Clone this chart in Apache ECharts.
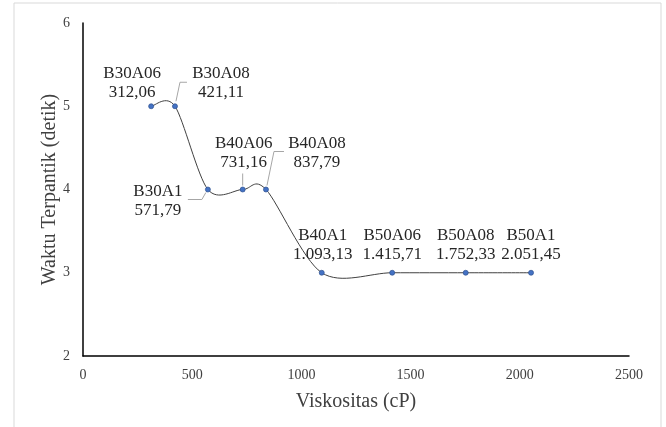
<!DOCTYPE html>
<html>
<head>
<meta charset="utf-8">
<script src="https://cdn.jsdelivr.net/npm/echarts@6/dist/echarts.min.js"></script>
<style>
  html, body { margin: 0; padding: 0; background: #fff; }
  #chart { width: 666px; height: 427px; }
</style>
</head>
<body>
<div id="chart"></div>
<script>
// data
var names = ['B30A06', 'B30A08', 'B30A1', 'B40A06', 'B40A08', 'B40A1', 'B50A06', 'B50A08', 'B50A1'];
var viskositas = [312.06, 421.11, 571.79, 731.16, 837.79, 1093.13, 1415.71, 1752.33, 2051.45];
var waktu = [5, 5, 4, 4, 4, 3, 3, 3, 3];
var xTicks = [0, 500, 1000, 1500, 2000, 2500];
var yTicks = [2, 3, 4, 5, 6];

// label placement (pixels from the point) and leader lines
var labelOffset = [[-19, -23], [46, -23], [-50, 12], [1, -36], [51, -36], [1, -28], [0, -28], [0, -28], [0, -28]];
var leaders = [
  null,
  [[1, -5], [5, -24], [12, -24]],
  [[-2, 3], [-6, 10], [-20, 10]],
  [[0, -4], [0, -16]],
  [[1, -4], [8, -38], [18, -38]],
  null, null, null, null
];

function fmt(v) {
  var parts = v.toFixed(2).split('.');
  var intPart = parts[0].replace(/\B(?=(\d{3})+(?!\d))/g, '.');
  return intPart + ',' + parts[1];
}

// excel style smoothed segment i -> i+1 (catmull-rom like)
function segment(api, i) {
  var n = viskositas.length;
  var P = function (j) {
    j = Math.max(0, Math.min(n - 1, j));
    return api.coord([viskositas[j], waktu[j]]);
  };
  var p0 = P(i - 1), p1 = P(i), p2 = P(i + 1), p3 = P(i + 2);
  var t = 0.15;
  return {
    type: 'bezierCurve',
    shape: {
      x1: p1[0], y1: p1[1],
      cpx1: p1[0] + (p2[0] - p0[0]) * t, cpy1: p1[1] + (p2[1] - p0[1]) * t,
      cpx2: p2[0] - (p3[0] - p1[0]) * t, cpy2: p2[1] - (p3[1] - p1[1]) * t,
      x2: p2[0], y2: p2[1]
    },
    style: { stroke: '#404040', lineWidth: 1, fill: 'none' }
  };
}

var serif = '"Liberation Serif", "DejaVu Serif", serif';
var mychart = echarts.init(document.getElementById('chart'));
mychart.setOption({
  animation: false,
  graphic: [{
    type: 'rect',
    shape: { x: 14, y: 3, width: 647, height: 440 },
    style: { fill: 'none', stroke: '#d9d9d9', lineWidth: 1 },
    silent: true
  }],
  grid: { left: 83, right: 37, top: 23, bottom: 71 },
  xAxis: {
    type: 'value',
    min: xTicks[0],
    max: xTicks[xTicks.length - 1],
    interval: 500,
    name: 'Viskositas (cP)',
    nameLocation: 'middle',
    nameGap: 36,
    nameMoveOverlap: false,
    nameTextStyle: { fontFamily: serif, fontSize: 20, color: '#404040' },
    axisLine: { lineStyle: { color: '#000', width: 1.5 } },
    axisTick: { show: false },
    splitLine: { show: false },
    axisLabel: { fontFamily: serif, fontSize: 14, color: '#404040', margin: 12, formatter: function (v) { return String(v); } }
  },
  yAxis: {
    type: 'value',
    min: yTicks[0],
    max: yTicks[yTicks.length - 1],
    interval: 1,
    name: 'Waktu Terpantik (detik)',
    nameLocation: 'middle',
    nameGap: 23,
    nameMoveOverlap: false,
    nameTextStyle: { fontFamily: serif, fontSize: 20, color: '#404040' },
    axisLine: { show: true, lineStyle: { color: '#000', width: 1.5 } },
    axisTick: { show: false },
    splitLine: { show: false },
    axisLabel: { fontFamily: serif, fontSize: 14, color: '#404040', margin: 13 }
  },
  series: [
    {
      type: 'custom',
      data: viskositas.slice(0, -1).map(function (x, i) { return [x, waktu[i], i]; }),
      encode: { x: 0, y: 1 },
      clip: false,
      z: 2,
      renderItem: function (params, api) {
        return segment(api, api.value(2));
      }
    },
    {
      type: 'scatter',
      data: viskositas.map(function (x, i) { return [x, waktu[i]]; }),
      symbol: 'circle',
      symbolSize: 5,
      itemStyle: { color: '#4472C4', borderColor: '#2F528F', borderWidth: 0.7, opacity: 1 },
      z: 3
    },
    {
      type: 'custom',
      data: viskositas.map(function (x, i) { return [x, waktu[i], i]; }),
      encode: { x: 0, y: 1 },
      clip: false,
      z: 4,
      renderItem: function (params, api) {
        var i = api.value(2);
        var p = api.coord([api.value(0), api.value(1)]);
        var off = labelOffset[i];
        var children = [{
          type: 'text',
          style: {
            text: names[i] + '\n' + fmt(viskositas[i]),
            x: p[0] + off[0],
            y: p[1] + off[1],
            align: 'center',
            verticalAlign: 'middle',
            font: '17px ' + serif,
            lineHeight: 19,
            fill: '#262626'
          }
        }];
        if (leaders[i]) {
          children.push({
            type: 'polyline',
            shape: { points: leaders[i].map(function (d) { return [p[0] + d[0], p[1] + d[1]]; }) },
            style: { stroke: '#a6a6a6', lineWidth: 1, fill: 'none' }
          });
        }
        return { type: 'group', children: children };
      }
    }
  ]
});
</script>
</body>
</html>
